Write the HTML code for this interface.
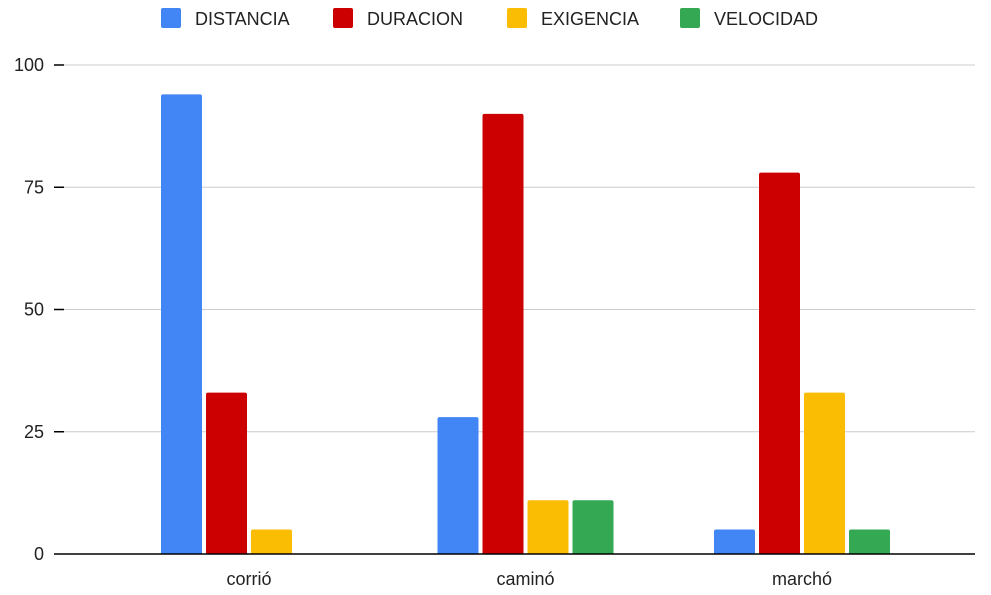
<!DOCTYPE html>
<html><head><meta charset="utf-8"><style>
body{margin:0;background:#fff;}
svg text{font-family:"Liberation Sans",Arial,sans-serif;}
</style></head><body>
<svg id="chart" width="991" height="590" viewBox="0 0 991 590" xmlns="http://www.w3.org/2000/svg"></svg>
<script>
const categories = ["corrió","caminó","marchó"];
const seriesNames = ["DISTANCIA","DURACION","EXIGENCIA","VELOCIDAD"];
const distancia = [94,28,5];
const duracion = [33,90,78];
const exigencia = [5,11,33];
const velocidad = [0,11,5];
const yTicks = [0,25,50,75,100];
const colors = ["#4285f4","#cc0000","#fbbc04","#34a853"];
const series = [distancia,duracion,exigencia,velocidad];

const svg = document.getElementById('chart');
const NS = "http://www.w3.org/2000/svg";
const y0 = 554, y100 = 65, xL = 64, xR = 975;
function yScale(v){ return y0 - (v/100)*(y0-y100); }
function xCenter(i){ return 249 + i*276.5; }
const barW = 41, gap = 4;
function mk(tag, attrs){ const e=document.createElementNS(NS,tag); for(const k in attrs) e.setAttribute(k,attrs[k]); svg.appendChild(e); return e; }

yTicks.forEach(t=>{
  const y=yScale(t);
  if(t>0){ const g=mk('line',{x1:xL,x2:xR,y1:y,y2:y,stroke:'#cccccc','stroke-width':1});
      }
  const tk=mk('line',{x1:54,x2:xL,y1:y,y2:y,stroke:'#000','stroke-width':1.5});
   
  const tx=mk('text',{x:44,y:y+6,'text-anchor':'end','font-size':18,fill:'#222'});
  tx.textContent=t;
   
});

series.forEach((vals,s)=>{
  vals.forEach((v,i)=>{
    const groupW = 4*barW+3*gap;
    const x = xCenter(i)-groupW/2 + s*(barW+gap);
    const y = yScale(v);
    const h = Math.max(y0-y,0.5);
    const r = mk('path',{d:`M${x},${y0} L${x},${y+Math.min(2,h)} Q${x},${y} ${x+2},${y} L${x+barW-2},${y} Q${x+barW},${y} ${x+barW},${y+Math.min(2,h)} L${x+barW},${y0} Z`,fill:colors[s]});
    
    
  });
});

const ax=mk('line',{x1:xL,x2:xR,y1:y0,y2:y0,stroke:'#000','stroke-width':1.5});
 

categories.forEach((c,i)=>{
  const t=mk('text',{x:xCenter(i),y:585,'text-anchor':'middle','font-size':18,fill:'#222'});
  t.textContent=c;
   
});

const legX=[161,333,507,680];
seriesNames.forEach((n,s)=>{
  const r=mk('rect',{x:legX[s],y:8,width:20,height:20,rx:2,fill:colors[s]});
   
  const t=mk('text',{x:legX[s]+34,y:25,'font-size':18,fill:'#222'});
  t.textContent=n;
   
});
</script>
</body></html>
